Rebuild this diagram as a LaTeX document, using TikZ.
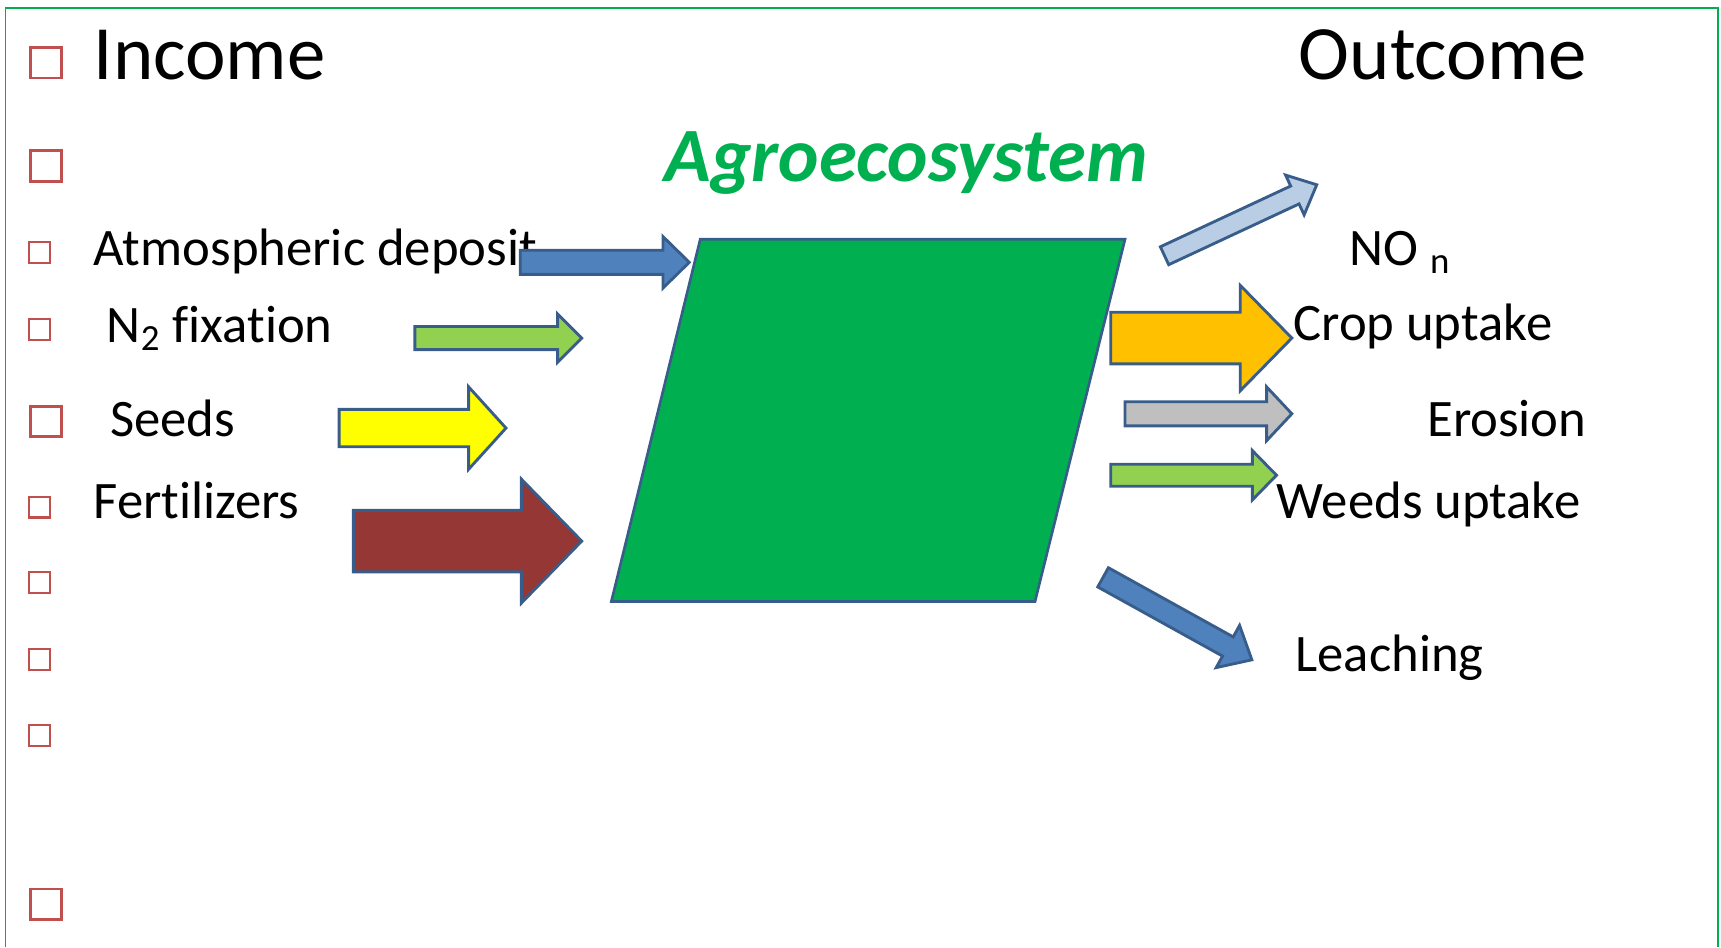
\documentclass[tikz,border=0pt]{standalone}
\usepackage{fontspec}
\setmainfont[Ligatures={NoCommon}]{Carlito}
\definecolor{frame}{HTML}{00B050}
\definecolor{agro}{HTML}{00B050}
\definecolor{edge}{HTML}{385D8A}
\definecolor{bul}{HTML}{C0504D}
\definecolor{blueA}{HTML}{4F81BD}
\definecolor{lightB}{HTML}{B9CDE5}
\definecolor{greenA}{HTML}{92D050}
\definecolor{yellowA}{HTML}{FFFF00}
\definecolor{brownA}{HTML}{953735}
\definecolor{orangeA}{HTML}{FFC000}
\definecolor{grayA}{HTML}{BFBFBF}
\newcommand{\blockarr}[8]{%
  \begin{scope}[shift={(#2,#3)},rotate=#4]
    \draw[blockstyle,fill=#1] (0,-#6) -- ({#5-#8},-#6) -- ({#5-#8},-#7) -- (#5,0)
      -- ({#5-#8},#7) -- ({#5-#8},#6) -- (0,#6) -- cycle;
  \end{scope}}
\begin{document}
\begin{tikzpicture}[x=0.5pt,y=-0.5pt,
  blockstyle/.style={draw=edge,line width=1.3pt,line join=miter},
  bigbox/.style={draw=bul,line width=1.3pt,minimum size=14pt,inner sep=0pt},
  smallbox/.style={draw=bul,line width=1pt,minimum size=9.5pt,inner sep=0pt},
  txt/.style={anchor=base west,inner sep=0pt,font=\fontsize{24}{28}\selectfont},
  title/.style={anchor=base west,inner sep=0pt,font=\fontsize{35}{40}\selectfont}]
\useasboundingbox (0,0) rectangle (1568,863);
% frame (open at bottom)
\draw[frame,line width=0.8pt] (5,863) -- (5,7) -- (1565,7) -- (1565,863);
% bullets
\node[bigbox] (b1) at (42,57) {};
\node[bigbox] (b2) at (42,151) {};
\node[smallbox] (b3) at (36,230) {};
\node[smallbox] (b4) at (36,300) {};
\node[bigbox] (b5) at (42,384) {};
\node[smallbox] (b6) at (36,462) {};
\node[smallbox] (b7) at (36,531) {};
\node[smallbox] (b8) at (36,601) {};
\node[smallbox] (b9) at (36,670) {};
\node[bigbox] (b10) at (42,824) {};
% titles
\node[title] (income) at (85,72) {Income};
\node[title] (outcome) at (1183,72) {Outcome};
\node[anchor=base west,inner sep=0pt,text=agro,font=\fontsize{35}{40}\selectfont\bfseries\itshape] (agro) at (605,165) {Agroecosystem};
% parallelogram
\draw[draw=edge,line width=1.2pt,fill=agro] (638,218) -- (1025,218) -- (943,548) -- (557,548) -- cycle;
% left labels
\node[txt] (atm) at (85,242) {Atmospheric deposit};
\node[txt] (nfix) at (97,312) {N\textsubscript{2} fixation};
\node[txt] (seeds) at (100,398) {Seeds};
\node[txt] (fert) at (85,472) {Fertilizers};
% input arrows
\blockarr{blueA}{474}{239}{0}{154}{11}{23.5}{24}
\blockarr{greenA}{378}{308}{0}{152}{10.5}{22}{22}
\blockarr{yellowA}{309}{390}{0}{152}{17}{37.5}{34}
\blockarr{brownA}{322}{493}{0}{208}{28}{56.5}{55}
% output arrows
\blockarr{lightB}{1061}{233}{25}{153}{9}{20}{22}
\blockarr{orangeA}{1012}{308}{0}{165}{23.5}{48}{47}
\blockarr{grayA}{1025}{377}{0}{152}{11}{24.5}{23}
\blockarr{greenA}{1012}{433}{0}{151}{10}{22.5}{22}
\blockarr{blueA}{1005}{526}{-29}{155}{10}{22}{25}
% right labels
\node[txt] (no) at (1229,242) {NO \textsubscript{n}};
\node[txt] (crop) at (1178,310) {Crop uptake};
\node[txt] (eros) at (1300,398) {Erosion};
\node[txt] (weeds) at (1163,472) {Weeds uptake};
\node[txt] (leach) at (1180,612) {Leaching};
\end{tikzpicture}
\end{document}
